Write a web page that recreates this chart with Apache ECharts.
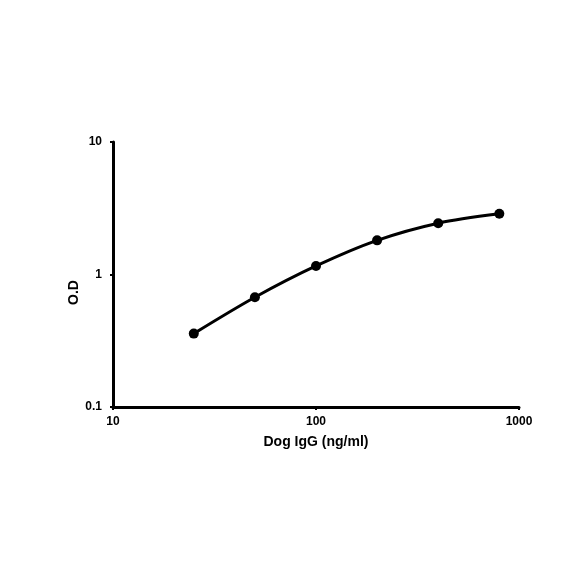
<!DOCTYPE html>
<html><head><meta charset="utf-8">
<script src="https://cdn.jsdelivr.net/npm/echarts@6/dist/echarts.min.js"></script>
<style>html,body{margin:0;padding:0;background:#fff}#c{width:584px;height:584px}</style>
</head><body><div id="c"></div>
<script>
const concentrations = [25, 50, 100, 200, 400, 800];
const odValues = [0.358, 0.673, 1.16, 1.81, 2.44, 2.87];
const xTitle = 'Dog IgG (ng/ml)';
const yTitle = 'O.D';

const chart = echarts.init(document.getElementById('c'));
const font = 'Liberation Sans, Arial, sans-serif';
chart.setOption({
  animation: false,
  grid: { left: 113, right: 65, top: 142, bottom: 177 },
  xAxis: {
    type: 'log', logBase: 10, min: 10, max: 1000,
    name: xTitle, nameLocation: 'middle', nameGap: 28, nameMoveOverlap: false,
    nameTextStyle: { fontFamily: font, fontWeight: 'bold', fontSize: 14, color: '#000' },
    axisLine: { lineStyle: { color: '#000', width: 3 } },
    axisTick: { show: true, length: 3, lineStyle: { color: '#000', width: 2 } },
    minorTick: { show: false },
    splitLine: { show: false },
    axisLabel: { fontFamily: font, fontWeight: 'bold', fontSize: 12, color: '#000', margin: 9,
      showMinLabel: true, showMaxLabel: true, formatter: v => String(Math.round(v)) }
  },
  yAxis: {
    type: 'log', logBase: 10, min: 0.1, max: 10,
    name: yTitle, nameLocation: 'middle', nameGap: 32, nameMoveOverlap: false,
    nameTextStyle: { fontFamily: font, fontWeight: 'bold', fontSize: 14, color: '#000', padding: [0, 36, 0, 0] },
    axisLine: { lineStyle: { color: '#000', width: 3 } },
    axisTick: { show: true, length: 3, lineStyle: { color: '#000', width: 2 } },
    splitLine: { show: false },
    axisLabel: { fontFamily: font, fontWeight: 'bold', fontSize: 12, color: '#000', margin: 11,
      formatter: v => String(Math.round(v * 10) / 10) }
  },
  series: [{
    type: 'line',
    data: concentrations.map((c, i) => [c, odValues[i]]),
    smooth: 0.3,
    symbol: 'circle', symbolSize: 10,
    lineStyle: { color: '#000', width: 3 },
    itemStyle: { color: '#000' }
  }]
});
</script></body></html>
